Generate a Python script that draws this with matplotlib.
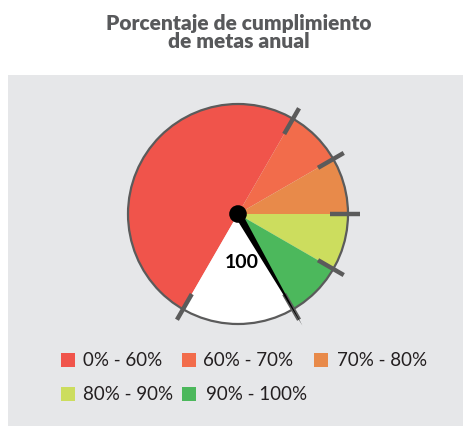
import numpy as np
import matplotlib
matplotlib.use("Agg")
import matplotlib.pyplot as plt
from matplotlib.patches import Rectangle, Circle, Polygon

# data
labels = ["0% - 60%", "60% - 70%", "70% - 80%", "80% - 90%", "90% - 100%"]
band_sizes = [60, 10, 10, 10, 10]
band_colors = ["#f0544b", "#f26c4b", "#e88a4a", "#ccdd5e", "#4cb85c"]
tick_values = [0, 60, 70, 80, 90, 100]
value = 100
title = "Porcentaje de cumplimiento\nde metas anual"

# gauge geometry: 100% spans 300 degrees, starting at 240 deg, clockwise
start_angle = 240
span = 300
gap = 100 * (360 - span) / span  # empty (white) part, in % units

def val_to_angle(v):
    return np.deg2rad(start_angle - v * span / 100)

W, H = 464, 427
fig = plt.figure(figsize=(W / 100, H / 100), dpi=100)
fig.patch.set_facecolor("white")

# grey panel
fig.patches.append(Rectangle((8 / W, 0), 1, 1 - 76 / H,
                             transform=fig.transFigure, facecolor="#e6e7e9",
                             edgecolor="none", zorder=-1))

fig.text(239 / W, 1 - 14 / H, title, ha="center", va="top", fontsize=15,
         fontweight="heavy", color="#58595b", family="Lato", linespacing=0.92)

cx, cy, r_px = 238, 215, 110
w = 2.6 * r_px / W
h = 2.6 * r_px / H
ax = fig.add_axes([cx / W - w / 2, 1 - cy / H - h / 2, w, h], zorder=2)
ax.patch.set_visible(False)

ax.pie(band_sizes + [gap], colors=band_colors + ["white"], startangle=start_angle,
       counterclock=False, radius=1, wedgeprops=dict(edgecolor="none"))
ax.set_xlim(-1.3, 1.3)
ax.set_ylim(-1.3, 1.3)
ax.set_aspect("equal")
ax.axis("off")
ax.add_patch(Circle((0, 0), 1, fill=False, edgecolor="#5b5b5b", lw=1.6, zorder=3))

for t in tick_values:
    a = val_to_angle(t)
    ax.plot([0.84 * np.cos(a), 1.11 * np.cos(a)], [0.84 * np.sin(a), 1.11 * np.sin(a)],
            color="#5b5b5b", lw=3.2, solid_capstyle="butt", zorder=4)

# needle
a = val_to_angle(value)
perp = a + np.pi / 2
bw = 0.035
tip = 1.17
needle = Polygon([(bw * np.cos(perp), bw * np.sin(perp)),
                  (tip * np.cos(a), tip * np.sin(a)),
                  (-bw * np.cos(perp), -bw * np.sin(perp))],
                 closed=True, facecolor="black", edgecolor="none", zorder=5)
ax.add_patch(needle)
ax.add_patch(Circle((0, 0), 0.08, facecolor="black", zorder=6))
ax.text(0.03, -0.43, str(value), ha="center", va="center", fontsize=14,
        fontweight="bold", color="black", family="Lato", zorder=6)

# legend, laid out in two rows
sq_x = [61, 182, 314, 61, 182]
txt_x = [83, 203, 337, 83, 206]
row_y = [361, 361, 361, 395, 395]
for lab, col, sx, tx, ry in zip(labels, band_colors, sq_x, txt_x, row_y):
    fig.patches.append(Rectangle((sx / W, 1 - (ry + 7) / H), 14 / W, 14 / H,
                                 transform=fig.transFigure, facecolor=col,
                                 edgecolor="none", zorder=1))
    fig.text(tx / W, 1 - ry / H, lab, ha="left", va="center", fontsize=13.5,
             color="#231f20", family="Lato")

fig.savefig("out.png", dpi=100, facecolor="white")
